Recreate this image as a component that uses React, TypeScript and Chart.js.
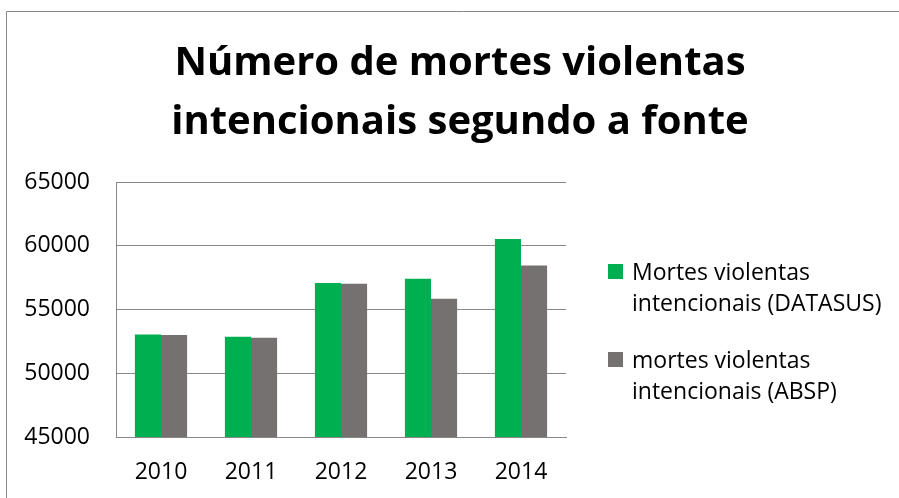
import React, { useEffect, useRef } from "react";
import { Chart, registerables } from "chart.js";

Chart.register(...registerables);

const years = ["2010", "2011", "2012", "2013", "2014"];
const datasus = [53050, 52870, 57080, 57420, 60530];
const absp = [53000, 52790, 57030, 55850, 58460];
const seriesNames = [
  "Mortes violentas intencionais (DATASUS)",
  "mortes violentas intencionais (ABSP)",
];
const legendLines = [
  ["Mortes violentas", "intencionais (DATASUS)"],
  ["mortes violentas", "intencionais (ABSP)"],
];
const titleLines = ["Número de mortes violentas", "intencionais segundo a fonte"];
const yMin = 45000;
const yMax = 65000;
const yStep = 5000;

const GREEN = "#00B050";
const GRAY = "#767171";
const LINE = "#888888";
const FONT = "'Open Sans', sans-serif";

const framePlugin = {
  id: "frame",
  beforeDraw(chart: any) {
    const ctx = chart.ctx;
    ctx.save();
    ctx.fillStyle = "#ffffff";
    ctx.fillRect(0, 0, chart.width, chart.height);
    ctx.strokeStyle = LINE;
    ctx.lineWidth = 1;
    ctx.beginPath();
    ctx.moveTo(6.5, chart.height);
    ctx.lineTo(6.5, 11.5);
    ctx.lineTo(chart.width, 11.5);
    ctx.stroke();
    ctx.restore();
  },
};

const legendPlugin = {
  id: "customLegend",
  afterDraw(chart: any) {
    const ctx = chart.ctx;
    ctx.save();
    ctx.font = `23px ${FONT}`;
    ctx.textBaseline = "alphabetic";
    ctx.textAlign = "left";
    const baseX = 608;
    const firstBaselines = [280, 368];
    chart.data.datasets.forEach((ds: any, i: number) => {
      const by = firstBaselines[i];
      ctx.fillStyle = ds.backgroundColor;
      ctx.fillRect(baseX, by - 16, 15, 15);
      ctx.fillStyle = "#000000";
      legendLines[i].forEach((line, j) => {
        ctx.fillText(line, baseX + 24, by + j * 31);
      });
    });
    ctx.restore();
  },
};

export default function App() {
  const ref = useRef<HTMLCanvasElement>(null);
  useEffect(() => {
    if (!ref.current) return;
    const chart = new Chart(ref.current, {
      type: "bar",
      data: {
        labels: years,
        datasets: [
          {
            label: seriesNames[0],
            data: datasus,
            backgroundColor: GREEN,
            categoryPercentage: 0.58,
            barPercentage: 1,
          },
          {
            label: seriesNames[1],
            data: absp,
            backgroundColor: GRAY,
            categoryPercentage: 0.58,
            barPercentage: 1,
          },
        ],
      },
      options: {
        responsive: false,
        animation: false,
        layout: { padding: 0 },
        plugins: {
          legend: { display: false },
          tooltip: { enabled: false },
          title: {
            display: true,
            text: titleLines,
            color: "#000000",
            font: { family: FONT, size: 40, weight: "bold", lineHeight: 1.458 },
            padding: { top: 34.75, bottom: 30.65 },
          },
        },
        scales: {
          x: {
            grid: { display: false, drawTicks: false },
            border: { display: true, color: LINE, width: 1 },
            ticks: { color: "#000", font: { family: FONT, size: 23 }, padding: 22 },
            afterFit: (s: any) => {
              s.height = 61;
            },
          },
          y: {
            min: yMin,
            max: yMax,
            ticks: {
              stepSize: yStep,
              color: "#000",
              font: { family: FONT, size: 23 },
              padding: 26,
              callback: (v: any) => String(v),
            },
            grid: { color: LINE, drawTicks: false, lineWidth: 1 },
            border: { display: true, color: LINE, width: 1 },
            afterFit: (s: any) => {
              s.width = 116;
            },
          },
          legendSpace: {
            type: "linear",
            position: "right",
            min: 0,
            max: 1,
            grid: { display: false, drawTicks: false },
            border: { display: false },
            ticks: { display: false },
            afterFit: (s: any) => {
              s.width = 354;
            },
          },
        },
      },
      plugins: [framePlugin, legendPlugin],
    });
    return () => chart.destroy();
  }, []);
  return (
    <div style={{ position: "fixed", left: 0, top: 0, width: 899, height: 498, overflow: "hidden", background: "#fff" }}>
      <canvas ref={ref} width={920} height={498} style={{ width: 920, height: 498, display: "block" }} />
    </div>
  );
}
